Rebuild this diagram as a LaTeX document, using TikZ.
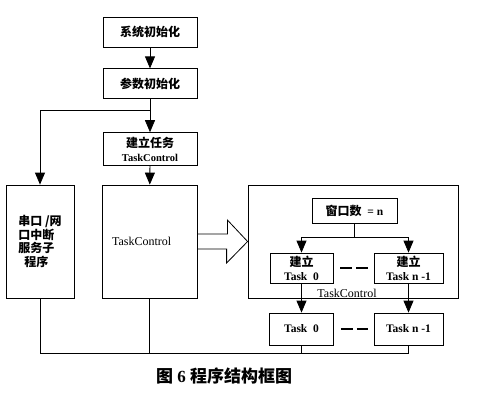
\documentclass[tikz,border=0pt]{standalone}
\usepackage{fontspec}
\setmainfont{Liberation Serif}
\newfontfamily\zhfont{Noto Sans CJK SC}
\newcommand{\zh}[1]{{\zhfont\fontsize{12}{14}\selectfont #1}}
\usetikzlibrary{arrows.meta,positioning}

\begin{document}
\begin{tikzpicture}[x=1pt, y=-1pt,
      blk/.style={draw, line width=0.8pt, fill=white,
                  minimum width=94pt, minimum height=30pt, inner sep=2pt,
                  font=\bfseries\fontsize{11.5}{14}\selectfont, align=center},
      arr/.style={-{Triangle[length=12pt,width=10pt]}, line width=0.8pt},
      ln/.style={line width=0.8pt},
      dsh/.style={dash pattern=on 12pt off 4pt}
  ]
    \useasboundingbox (0,0) rectangle (478,392);
    % main column
    \node[blk] (init) at (150,32) {\zh{系统初始化}};
    \node[blk, below=21pt of init] (param) {\zh{参数初始化}};
    \node[blk, minimum height=33pt, below=33pt of param,
          font=\bfseries\fontsize{10.5}{14}\selectfont] (task) {\zh{建立任务}\\TaskControl};
    \node[blk, minimum width=68pt, minimum height=113pt, align=left,
          font=\zhfont\bfseries\fontsize{12}{13.5}\selectfont] (isr) at (40,241.5)
          {串口 /网\\口中断\\服务子\\\hspace*{0.5em}程序};
    \node[blk, minimum width=95pt, minimum height=113pt, text width=75pt,
          inner xsep=10pt, align=left, font=\fontsize{12}{14}\selectfont] (tc) at (149.5,241.5) {TaskControl};
    % TaskControl group
    \node[draw, ln, minimum width=210pt, minimum height=113pt] (grp) at (353,241.5) {};
    \node[blk, minimum width=85pt, minimum height=25pt] (win) at (354.5,210.5) {\zh{窗口数}~~= n};
    \node[blk, minimum width=63pt] (mk0) at (301.5,268) {\zh{建立}\\Task~ 0};
    \node[blk, minimum width=69pt] (mkn) at (408.5,268) {\zh{建立}\\Task n -1};
    \node[font=\fontsize{12}{14}\selectfont, anchor=south, inner sep=0.3pt] (lbl)
          at ([xshift=-6pt]grp.south) {TaskControl};
    \node[blk, minimum width=64pt, minimum height=32pt] (t0) at (301.5,329) {Task~ 0};
    \node[blk, minimum width=69pt, minimum height=32pt] (tn) at (408.5,329) {Task n -1};
    \node[font=\bfseries\fontsize{17}{19}\selectfont] (cap) at (224,376)
          {{\zhfont 图}~6~{\zhfont 程序结构框图}};
    % connectors
    \coordinate (br) at (150,110);
    \coordinate (sp) at (354.5,237);
    \coordinate (bt) at (150,353);
    \draw[arr] (init) -- (param);
    \draw[arr] (param) -- (task);
    \draw[arr] (br) -| (isr.north);
    \draw[arr] (task) -- (tc);
    \draw[ln] (win) -- (sp);
    \draw[arr] (sp) -| (mk0.north);
    \draw[arr] (sp) -| (mkn.north);
    \draw[arr] (mk0) -- (t0);
    \draw[arr] (mkn) -- (tn);
    \draw[ln] (isr.south) |- (bt) -| (tn.south);
    \draw[ln] (tc.south) -- (tc.south |- bt);
    \draw[ln] (t0.south) -- (t0.south |- bt);
    % block arrow
    \draw[ln] ([yshift=7.5pt]tc.east) -- ++(30,0) -- ++(0,-14) -- (grp.west)
          -- ++(-21,21.5) -- ++(0,-14) -- ([yshift=-7.5pt]tc.east);
    % dashes
    \draw[dsh, line width=2.4pt] ([xshift=7pt]mk0.east) -- ([xshift=-6pt]mkn.west);
    \draw[dsh, line width=1.6pt] ([xshift=7pt]t0.east) -- ([xshift=-6pt]tn.west);
  \end{tikzpicture}
\end{document}
